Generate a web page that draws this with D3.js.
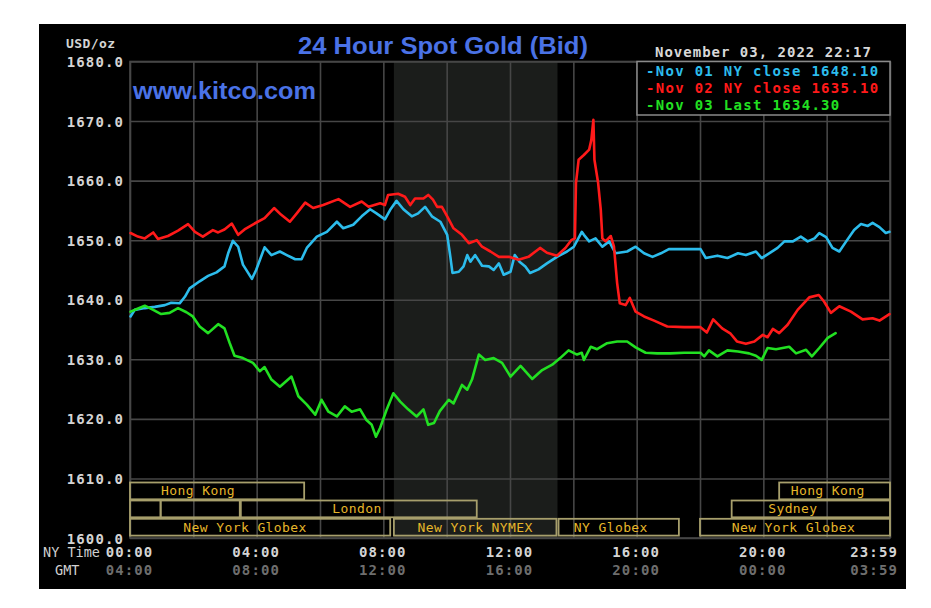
<!DOCTYPE html>
<html><head><meta charset="utf-8">
<script src="https://cdn.jsdelivr.net/npm/d3@7/dist/d3.min.js"></script>
<style>
html,body{margin:0;padding:0;background:#fff;}
svg{display:block;}
</style></head>
<body><svg id="c" width="931" height="608"></svg>
<script>
// ---------------- data ----------------
const chartTitle = "24 Hour Spot Gold (Bid)";
const siteLabel = "www.kitco.com";
const unitLabel = "USD/oz";
const dateLabel = "November 03, 2022 22:17";
const yTickValues = [1600, 1610, 1620, 1630, 1640, 1650, 1660, 1670, 1680];
const xTickMinutes = [0, 240, 480, 720, 960, 1200, 1439];
const nyTimeLabels = ["00:00", "04:00", "08:00", "12:00", "16:00", "20:00", "23:59"];
const gmtLabels = ["04:00", "08:00", "12:00", "16:00", "20:00", "00:00", "03:59"];
const legendLabels = ["Nov 01 NY close 1648.10", "Nov 02 NY close 1635.10", "Nov 03 Last 1634.30"];
const nyMarketHours = [500, 810]; // 08:20 - 13:30

// [minute of NY day, price]
const nov01 = [[1,1637.2],[9,1638.3],[28,1638.6],[47,1638.8],[66,1639.1],[78,1639.5],[94,1639.4],[104,1640.5],[113,1641.9],[132,1643.1],[148,1644.0],[164,1644.6],[179,1645.6],[186,1647.8],[195,1649.9],[205,1648.9],[214,1645.9],[231,1643.5],[239,1645.0],[255,1648.8],[268,1647.5],[284,1648.1],[297,1647.5],[313,1646.8],[325,1646.8],[335,1648.7],[354,1650.6],[373,1651.4],[392,1653.1],[404,1652.0],[423,1652.6],[439,1654.0],[455,1655.2],[467,1654.5],[483,1653.5],[493,1655.1],[505,1656.6],[518,1655.2],[534,1654.0],[546,1654.5],[559,1655.6],[572,1654.0],[588,1653.1],[601,1650.9],[607,1647.2],[611,1644.5],[623,1644.7],[632,1645.6],[639,1647.5],[645,1646.4],[654,1647.5],[667,1645.7],[680,1645.6],[689,1645.0],[699,1646.1],[708,1644.2],[721,1644.7],[729,1647.5],[738,1646.4],[749,1645.6],[758,1644.5],[774,1645.1],[790,1646.1],[809,1647.2],[828,1648.1],[841,1648.9],[856,1651.4],[860,1650.9],[870,1649.8],[882,1650.3],[895,1648.9],[908,1649.8],[920,1647.8],[942,1648.1],[958,1648.9],[974,1647.8],[990,1647.2],[1006,1647.8],[1021,1648.5],[1050,1648.5],[1081,1648.5],[1091,1647.0],[1113,1647.4],[1132,1647.0],[1152,1647.8],[1167,1647.5],[1186,1648.1],[1197,1647.0],[1211,1647.8],[1227,1648.7],[1240,1649.8],[1256,1649.8],[1271,1650.6],[1284,1649.8],[1297,1650.3],[1306,1651.2],[1319,1650.5],[1331,1648.7],[1344,1648.1],[1357,1649.8],[1372,1651.7],[1385,1652.7],[1398,1652.4],[1407,1652.9],[1420,1652.2],[1432,1651.2],[1439,1651.4]];

const nov02 = [[1,1651.2],[15,1650.6],[28,1650.3],[44,1651.3],[53,1650.2],[72,1650.7],[91,1651.6],[110,1652.7],[123,1651.4],[138,1650.6],[157,1651.7],[167,1651.3],[179,1651.8],[193,1652.8],[205,1650.9],[217,1651.8],[236,1652.8],[255,1653.7],[273,1655.4],[286,1654.3],[303,1653.1],[316,1654.5],[332,1656.3],[347,1655.4],[366,1655.9],[395,1656.9],[417,1655.6],[439,1656.5],[452,1655.6],[474,1656.2],[483,1655.9],[489,1657.6],[508,1657.8],[521,1657.3],[531,1655.9],[540,1657.0],[556,1657.0],[565,1657.6],[574,1656.8],[582,1655.6],[591,1655.6],[601,1654.0],[613,1652.0],[629,1650.9],[642,1649.5],[657,1650.0],[667,1648.9],[683,1648.1],[699,1647.2],[718,1647.2],[736,1646.7],[755,1647.2],[777,1648.7],[790,1647.9],[809,1647.4],[825,1648.7],[836,1650.0],[843,1650.3],[845,1659.6],[850,1663.5],[860,1664.3],[870,1665.2],[874,1666.8],[878,1670.2],[880,1663.5],[887,1659.6],[892,1655.1],[895,1650.3],[901,1649.8],[911,1650.7],[917,1648.9],[923,1642.8],[928,1639.4],[939,1639.1],[947,1640.3],[958,1638.0],[974,1637.2],[993,1636.5],[1018,1635.5],[1050,1635.4],[1081,1635.4],[1093,1634.5],[1105,1636.7],[1122,1635.2],[1138,1634.3],[1150,1633.0],[1167,1632.6],[1183,1633.0],[1199,1634.1],[1208,1633.7],[1218,1635.1],[1230,1634.4],[1246,1635.8],[1265,1638.3],[1287,1640.4],[1305,1640.8],[1315,1639.7],[1328,1637.8],[1344,1638.9],[1366,1638.0],[1388,1636.7],[1407,1636.9],[1420,1636.5],[1439,1637.6]];

const nov03 = [[1,1638.0],[12,1638.4],[28,1639.0],[44,1638.3],[59,1637.6],[75,1637.8],[91,1638.6],[107,1637.9],[119,1637.2],[132,1635.5],[148,1634.4],[167,1635.9],[179,1635.2],[189,1632.7],[198,1630.6],[214,1630.2],[233,1629.4],[246,1628.0],[255,1628.7],[268,1626.6],[284,1625.4],[306,1627.1],[319,1623.8],[335,1622.4],[351,1620.7],[363,1623.2],[376,1621.2],[392,1620.4],[407,1622.1],[420,1621.2],[436,1621.6],[448,1619.8],[458,1619.0],[466,1617.0],[474,1618.5],[486,1621.5],[499,1624.3],[512,1622.9],[527,1621.6],[543,1620.4],[556,1621.6],[565,1619.0],[576,1619.3],[587,1621.3],[604,1623.2],[613,1622.6],[629,1625.7],[639,1624.9],[648,1626.6],[661,1630.8],[673,1629.9],[689,1630.2],[705,1629.4],[721,1627.1],[740,1628.9],[762,1626.7],[781,1628.2],[800,1629.1],[815,1630.2],[831,1631.5],[847,1630.8],[856,1631.1],[860,1629.9],[873,1632.1],[885,1631.7],[904,1632.7],[923,1633.0],[942,1633.0],[958,1632.0],[977,1631.1],[999,1631.0],[1024,1631.0],[1050,1631.1],[1081,1631.1],[1088,1630.5],[1097,1631.5],[1113,1630.5],[1132,1631.5],[1152,1631.3],[1173,1631.0],[1186,1630.6],[1197,1629.9],[1208,1631.9],[1224,1631.7],[1249,1632.1],[1262,1631.0],[1281,1631.6],[1292,1630.5],[1306,1631.9],[1322,1633.6],[1337,1634.4]];

// trading sessions: row, start minute, end minute, label, label anchor minute
const sessionRows = [0, 0, 1, 1, 1, 1, 2, 2, 2, 2];
const sessionStart = [0, 1230, 0, 58, 210, 1140, 0, 500, 812, 1080];
const sessionEnd = [330, 1440, 58, 208, 657, 1440, 493, 808, 1040, 1440];
const sessionLabels = ["Hong Kong", "Hong Kong", "", "", "London", "Sydney", "New York Globex", "New York NYMEX", "NY Globex", "New York Globex"];
const sessionLabelAt = [129, 1322, 0, 0, 430, 1256, 218, 654, 911, 1257];

// ---------------- drawing ----------------
const svg = d3.select("#c");
const L = 130, R = 890, T = 61.5, B = 538;
const x = d3.scaleLinear().domain([0, 1440]).range([L, R]);
const y = d3.scaleLinear().domain([1600, 1680]).range([B, T]);
const mono = "'DejaVu Sans Mono', 'Liberation Mono', monospace";
const seriesColors = ["#2cbcec", "#ff1a1a", "#22e022"];

svg.append("rect").attr("x", 39).attr("y", 24).attr("width", 867).attr("height", 565).attr("fill", "#000");

// NY market hours shading
svg.append("rect")
  .attr("x", x(nyMarketHours[0])).attr("y", T)
  .attr("width", x(nyMarketHours[1]) - x(nyMarketHours[0])).attr("height", B - T)
  .attr("fill", "#1b1d1b");

// grid via axes
const gridColor = "#464646";
const gx = svg.append("g").attr("transform", `translate(0,${B})`)
  .call(d3.axisBottom(x).tickValues(d3.range(0, 1441, 120)).tickSize(-(B - T)).tickFormat(""));
const gy = svg.append("g").attr("transform", `translate(${L},0)`)
  .call(d3.axisLeft(y).tickValues(yTickValues).tickSize(-(R - L)).tickFormat(""));
[gx, gy].forEach(g => {
  g.select(".domain").remove();
  g.selectAll(".tick line").attr("stroke", gridColor).attr("stroke-width", 1.6);
});
svg.append("rect").attr("x", L).attr("y", T).attr("width", R - L).attr("height", B - T)
  .attr("fill", "none").attr("stroke", gridColor).attr("stroke-width", 1.6);

// y labels
const ya = svg.append("g").attr("transform", `translate(${L},0)`)
  .call(d3.axisLeft(y).tickValues(yTickValues).tickSize(0).tickPadding(6).tickFormat(d3.format(".1f")));
ya.select(".domain").remove();
ya.selectAll("text").attr("font-family", mono).attr("font-size", 14).attr("font-weight", "bold")
  .attr("fill", "#d4d4d4").attr("letter-spacing", 1.1).attr("dy", null).attr("y", 5);

// x labels: NY time and GMT
const xa = svg.append("g").attr("transform", `translate(0,${B})`)
  .call(d3.axisBottom(x).tickValues(xTickMinutes).tickSize(0).tickFormat((d, i) => nyTimeLabels[i]));
xa.select(".domain").remove();
xa.selectAll("text").attr("font-family", mono).attr("font-size", 14).attr("font-weight", "bold")
  .attr("fill", "#d4d4d4").attr("letter-spacing", 1.1).attr("dy", null).attr("y", 19).attr("dx", -1);
const xg = svg.append("g").attr("transform", `translate(0,${B})`)
  .call(d3.axisBottom(x).tickValues(xTickMinutes).tickSize(0).tickFormat((d, i) => gmtLabels[i]));
xg.select(".domain").remove();
xg.selectAll("text").attr("font-family", mono).attr("font-size", 14).attr("font-weight", "bold")
  .attr("fill", "#6e6e6e").attr("letter-spacing", 1.1).attr("dy", null).attr("y", 37).attr("dx", -1);
[xa, xg].forEach(g => g.selectAll(".tick").filter((d, i) => i === xTickMinutes.length - 1)
  .select("text").attr("text-anchor", "end").attr("dx", 8));

svg.append("text").attr("x", 43).attr("y", 557).text("NY Time")
  .attr("font-family", mono).attr("font-size", 13.5).attr("fill", "#d0d0d0");
svg.append("text").attr("x", 55).attr("y", 575).text("GMT")
  .attr("font-family", mono).attr("font-size", 13.5).attr("fill", "#d0d0d0");
svg.append("text").attr("x", 66).attr("y", 48).text(unitLabel)
  .attr("font-family", mono).attr("font-size", 13).attr("font-weight", "bold").attr("fill", "#d4d4d4").attr("letter-spacing", 0.4);

// sessions
const rowTop = [482.5, 500.5, 518.8];
const rowH = 16.8;
const sessions = sessionRows.map((r, i) => ({ r, s: sessionStart[i], e: sessionEnd[i], label: sessionLabels[i], at: sessionLabelAt[i] }));
const sg = svg.append("g");
sg.selectAll("rect").data(sessions).join("rect")
  .attr("x", d => x(d.s)).attr("y", d => rowTop[d.r])
  .attr("width", d => x(d.e) - x(d.s)).attr("height", rowH)
  .attr("fill", "none").attr("stroke", "#a79f6c").attr("stroke-width", 1.8);
sg.selectAll("text").data(sessions.filter(d => d.label)).join("text")
  .attr("x", d => x(d.at)).attr("y", d => rowTop[d.r] + rowH / 2 + 4.5)
  .attr("text-anchor", "middle").text(d => d.label)
  .attr("font-family", mono).attr("font-size", 13).attr("letter-spacing", 0.4).attr("fill", "#e6b62a");

// lines
const line = d3.line().x(d => x(d[0])).y(d => y(d[1]));
[nov01, nov02, nov03].forEach((s, i) => {
  svg.append("path").datum(s).attr("d", line).attr("fill", "none")
    .attr("stroke", seriesColors[i]).attr("stroke-width", 2.6)
    .attr("stroke-linejoin", "round").attr("stroke-linecap", "round");
});

// title & site
svg.append("text").attr("x", 443).attr("y", 53.5).attr("text-anchor", "middle").text(chartTitle)
  .attr("font-family", "'Liberation Sans', Arial, sans-serif").attr("font-weight", "bold")
  .attr("font-size", 23).attr("fill", "#4a72e6").attr("textLength", 290).attr("lengthAdjust", "spacingAndGlyphs");
svg.append("text").attr("x", 133).attr("y", 99).text(siteLabel)
  .attr("font-family", "'Liberation Sans', Arial, sans-serif").attr("font-weight", "bold")
  .attr("font-size", 23).attr("fill", "#4a72e6").attr("textLength", 183).attr("lengthAdjust", "spacingAndGlyphs");

// date
svg.append("text").attr("x", 655).attr("y", 56.5).text(dateLabel)
  .attr("font-family", mono).attr("font-size", 14).attr("font-weight", "bold")
  .attr("fill", "#d8d8d8").attr("letter-spacing", 1.0);

// legend
svg.append("rect").attr("x", 637).attr("y", T).attr("width", R - 637).attr("height", 53.5)
  .attr("fill", "#000").attr("stroke", "#8a8a8a").attr("stroke-width", 1.5);
const legBase = [75.7, 92.5, 110];
svg.append("g").selectAll("text").data(legendLabels).join("text")
  .attr("x", 646).attr("y", (d, i) => legBase[i]).text(d => "-" + d)
  .attr("font-family", mono).attr("font-size", 14).attr("font-weight", "bold")
  .attr("letter-spacing", 1.3).attr("fill", (d, i) => seriesColors[i]);
</script>
</body></html>
